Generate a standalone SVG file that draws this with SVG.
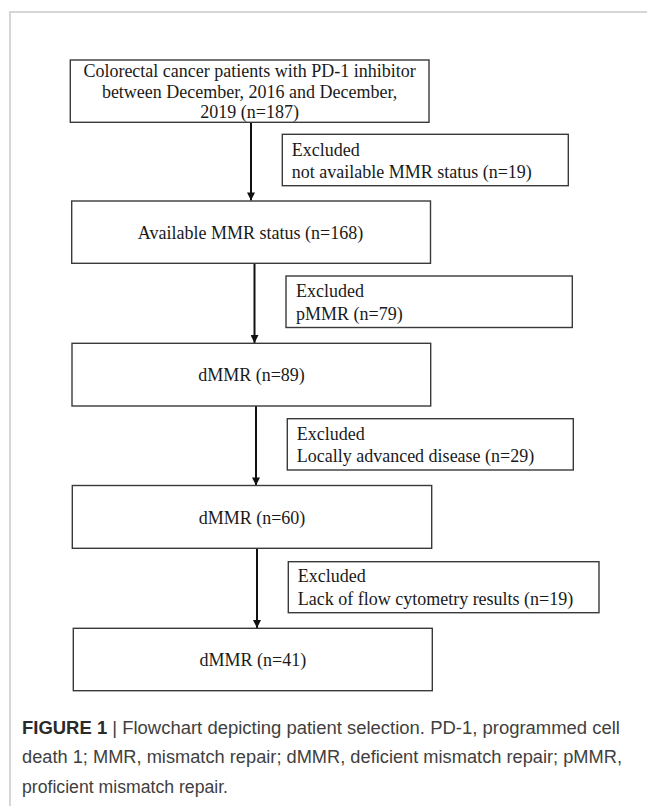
<svg xmlns="http://www.w3.org/2000/svg" width="647" height="806" viewBox="0 0 647 806">
  <style>
    .box { fill: #ffffff; stroke: #3a3a3a; stroke-width: 1.4; }
    .t { font-family: "Liberation Serif", "Times New Roman", serif; font-size: 18px; fill: #1a1a1a; }
    .c { text-anchor: middle; }
    .conn { stroke: #111111; stroke-width: 2; fill: none; }
    .cap { font-family: "Liberation Sans", Arial, sans-serif; font-size: 17.5px; fill: #404040; }
    .capb { font-weight: bold; fill: #2a2a2a; }
  </style>
  <defs>
    <marker id="arr" viewBox="0 0 10 10" refX="10" refY="5" markerWidth="4.5" markerHeight="4" orient="auto" markerUnits="strokeWidth">
      <path d="M0,0 L10,5 L0,10 Z" fill="#111111"/>
    </marker>
  </defs>
  <rect width="647" height="806" fill="#ffffff"/>
  <path d="M10,806 V12 H647" fill="none" stroke="#d6d6d6" stroke-width="2"/>

  <g id="connectors">
    <line class="conn" x1="251" y1="122.5" x2="251" y2="200.5" marker-end="url(#arr)"/>
    <line class="conn" x1="254.5" y1="263.5" x2="254.5" y2="343" marker-end="url(#arr)"/>
    <line class="conn" x1="256" y1="406" x2="256" y2="485.5" marker-end="url(#arr)"/>
    <line class="conn" x1="257" y1="548.5" x2="257" y2="628" marker-end="url(#arr)"/>
  </g>

  <g id="n1">
    <rect class="box" x="70.3" y="60" width="358.7" height="62.3"/>
    <text class="t c" x="249.6" y="77">Colorectal cancer patients with PD-1 inhibitor</text>
    <text class="t c" x="249.6" y="97.5">between December, 2016 and December,</text>
    <text class="t c" x="249.6" y="118">2019 (n=187)</text>
  </g>
  <g id="e1">
    <rect class="box" x="282.3" y="134.3" width="286" height="51.4"/>
    <text class="t" x="291.7" y="155.5">Excluded</text>
    <text class="t" x="291.7" y="178">not available MMR status (n=19)</text>
  </g>
  <g id="n2">
    <rect class="box" x="71.7" y="201" width="358.8" height="62.3"/>
    <text class="t c" x="250.5" y="238.5">Available MMR status (n=168)</text>
  </g>
  <g id="e2">
    <rect class="box" x="286" y="276" width="286.3" height="51.5"/>
    <text class="t" x="296" y="297.3">Excluded</text>
    <text class="t" x="296" y="319.5">pMMR (n=79)</text>
  </g>
  <g id="n3">
    <rect class="box" x="72" y="343.3" width="358.7" height="62.7"/>
    <text class="t c" x="251.5" y="380.5">dMMR (n=89)</text>
  </g>
  <g id="e3">
    <rect class="box" x="287.3" y="418.7" width="286" height="51.3"/>
    <text class="t" x="296.7" y="440">Excluded</text>
    <text class="t" x="296.7" y="462">Locally advanced disease (n=29)</text>
  </g>
  <g id="n4">
    <rect class="box" x="72.3" y="485.5" width="359.4" height="62.8"/>
    <text class="t c" x="252" y="523.5">dMMR (n=60)</text>
  </g>
  <g id="e4">
    <rect class="box" x="288.3" y="561.7" width="310.7" height="51"/>
    <text class="t" x="297.7" y="582">Excluded</text>
    <text class="t" x="297.7" y="604.5">Lack of flow cytometry results (n=19)</text>
  </g>
  <g id="n5">
    <rect class="box" x="73.3" y="628.3" width="359" height="62.4"/>
    <text class="t c" x="252.8" y="666">dMMR (n=41)</text>
  </g>

  <g id="caption">
    <text class="cap" x="22" y="734" textLength="598" lengthAdjust="spacingAndGlyphs"><tspan class="capb">FIGURE 1</tspan> | Flowchart depicting patient selection. PD-1, programmed cell</text>
    <text class="cap" x="22" y="763" textLength="600" lengthAdjust="spacingAndGlyphs">death 1; MMR, mismatch repair; dMMR, deficient mismatch repair; pMMR,</text>
    <text class="cap" x="22" y="793" textLength="206" lengthAdjust="spacingAndGlyphs">proficient mismatch repair.</text>
  </g>
</svg>
